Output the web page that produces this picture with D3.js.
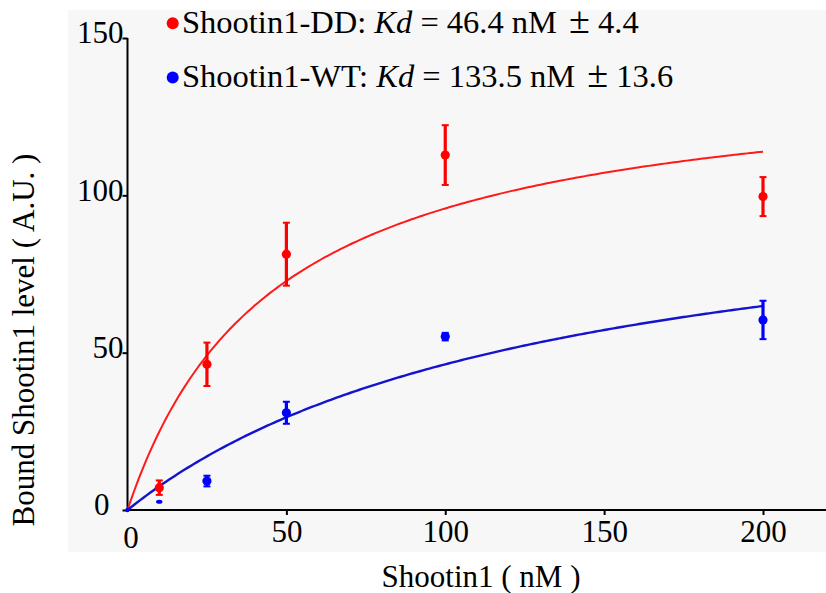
<!DOCTYPE html>
<html>
<head>
<meta charset="utf-8">
<script src="https://cdn.jsdelivr.net/npm/d3@7"></script>
</head>
<body style="margin:0">
<svg id="chart" width="826" height="593" style="display:block"></svg>
<script>
// Shootin1 concentrations (nM)
const concentrations = [10, 25, 50, 100, 200];

// Shootin1-DD: bound level (A.U.) and error
const ddMeans = [7.1, 46.3, 81.3, 112.8, 99.6];
const ddErrors = [2.3, 6.9, 10.0, 9.5, 6.2];

// Shootin1-WT: bound level (A.U.) and error
const wtMeans = [2.6, 9.2, 30.9, 55.1, 60.4];
const wtErrors = [0, 1.7, 3.5, 1.2, 6.1];

// Saturation binding fits: Bmax * x / (Kd + x)
const fitKd = [46.4, 133.5];
const fitBmax = [140.3, 108.1];

const xTicks = [0, 50, 100, 150, 200];
const yTicks = [0, 50, 100, 150];

const legendLabels = [
  { name: "Shootin1-DD: ", kd: "46.4", err: "4.4" },
  { name: "Shootin1-WT: ", kd: "133.5", err: "13.6" }
];

const seriesColors = ["#ff0000", "#0000ff"];
const lineColors = ["#ff1a1a", "#1414cc"];
const FONT = '"Liberation Serif", monospace';

const svg = d3.select("#chart");

// faint paper tone behind the plot
svg.append("rect")
  .attr("x", 68).attr("y", 10).attr("width", 758).attr("height", 542)
  .attr("fill", "#f7f7f7");

const x = d3.scaleLinear().domain([0, 200]).range([127.5, 763]);
const y = d3.scaleLinear().domain([0, 150]).range([510, 38]);

// y axis
const yAxis = svg.append("g").attr("transform", `translate(${x(0)},0)`)
  .call(d3.axisLeft(y).tickValues(yTicks).tickSize(5).tickSizeOuter(0).tickFormat(d3.format("d")));
yAxis.attr("font-family", FONT).attr("font-size", 31);
yAxis.select(".domain").attr("stroke", "#000").attr("stroke-width", 2)
  .attr("d", `M0,${y(150)}V${y(0)}`);
yAxis.selectAll(".tick line").attr("stroke", "#000").attr("stroke-width", 2);
yAxis.selectAll(".tick text")
  .attr("font-family", FONT).attr("font-size", 31).attr("fill", "#000")
  .attr("x", d => d === 0 ? -18 : -4)
  .attr("dy", "0.16em");

// x axis
const xAxis = svg.append("g").attr("transform", `translate(0,${y(0)})`)
  .call(d3.axisBottom(x).tickValues(xTicks).tickSize(5).tickSizeOuter(0).tickFormat(d3.format("d")));
xAxis.attr("font-family", FONT).attr("font-size", 31);
xAxis.select(".domain").attr("stroke", "#000").attr("stroke-width", 2)
  .attr("d", `M${x(0)},0H826`);
xAxis.selectAll(".tick line").attr("stroke", "#000").attr("stroke-width", 2)
  .attr("y2", d => d === 0 ? 0 : 5);
xAxis.selectAll(".tick text")
  .attr("font-family", FONT).attr("font-size", 31).attr("fill", "#000")
  .attr("y", d => d === 0 ? 38 : 32)
  .attr("x", d => d === 0 ? 3 : 0)
  .attr("dy", 0);

// axis titles
svg.append("text")
  .attr("x", 481).attr("y", 587)
  .attr("font-family", FONT)
  .attr("text-anchor", "middle").attr("font-size", 31)
  .text("Shootin1 ( nM )");

svg.append("text")
  .attr("transform", "translate(34,340) rotate(-90)")
  .attr("font-family", FONT)
  .attr("text-anchor", "middle").attr("font-size", 31)
  .text("Bound Shootin1 level ( A.U. )");

// fitted curves
const curveX = d3.range(0, 200.5, 1);
const line = d3.line().x(d => x(d[0])).y(d => y(d[1]));
fitKd.forEach((kd, i) => {
  const pts = curveX.map(c => [c, fitBmax[i] * c / (kd + c)]);
  svg.append("path")
    .attr("d", line(pts))
    .attr("fill", "none")
    .attr("stroke", lineColors[i])
    .attr("stroke-width", i === 0 ? 2 : 2.4);
});

// data points with error bars
function drawSeries(means, errors, color) {
  const g = svg.append("g");
  concentrations.forEach((c, j) => {
    const cx = x(c), cy = y(means[j]);
    const e = errors[j];
    if (e > 0) {
      g.append("line")
        .attr("x1", cx).attr("x2", cx)
        .attr("y1", y(means[j] + e)).attr("y2", y(means[j] - e))
        .attr("stroke", color).attr("stroke-width", 3.2);
      [means[j] + e, means[j] - e].forEach(v => {
        g.append("line")
          .attr("x1", cx - 3.5).attr("x2", cx + 3.5)
          .attr("y1", y(v)).attr("y2", y(v))
          .attr("stroke", color).attr("stroke-width", 2);
      });
      g.append("circle").attr("cx", cx).attr("cy", cy).attr("r", 4.6).attr("fill", color);
    } else {
      g.append("ellipse").attr("cx", cx).attr("cy", cy)
        .attr("rx", 3.2).attr("ry", 2).attr("fill", color);
    }
  });
  return g;
}
drawSeries(ddMeans, ddErrors, seriesColors[0]);
drawSeries(wtMeans, wtErrors, seriesColors[1]);

// origin marker
svg.append("circle").attr("cx", x(0)).attr("cy", y(0)).attr("r", 2.2).attr("fill", seriesColors[1]);

// legend
legendLabels.forEach((lab, i) => {
  const by = 33 + i * 54.3;
  svg.append("circle").attr("cx", 172.7).attr("cy", by - 9.8).attr("r", 6).attr("fill", seriesColors[i]);
  const t = svg.append("text").attr("x", 182).attr("y", by)
    .attr("font-family", FONT).attr("font-size", 32.5);
  t.append("tspan").text(lab.name);
  t.append("tspan").attr("font-style", "italic").text("Kd");
  t.append("tspan").text(" = " + lab.kd + " nM ");
  t.append("tspan").attr("font-size", 38).attr("dx", 4).text("±");
  t.append("tspan").text(" " + lab.err);
});
</script>
</body>
</html>
